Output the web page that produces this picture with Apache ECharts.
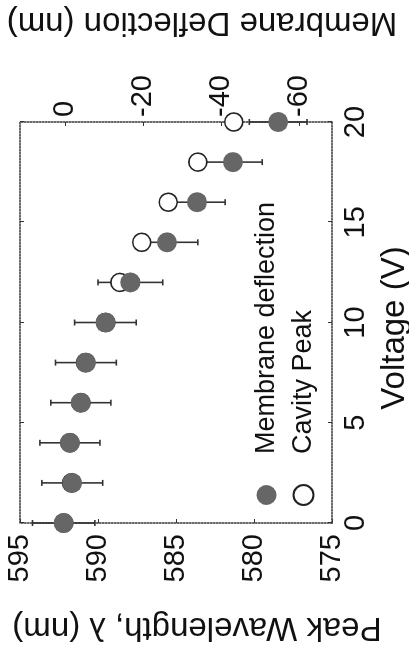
<!DOCTYPE html>
<html>
<head>
<meta charset="utf-8">
<script src="https://cdn.jsdelivr.net/npm/echarts@6/dist/echarts.min.js"></script>
<style>
  html, body { margin: 0; padding: 0; background: #fff; overflow: hidden; }
  #wrap { width: 409px; height: 651px; position: relative; overflow: hidden; }
  /* the figure is printed turned a quarter turn, so draw it upright and turn the box */
  #chart {
    position: absolute; left: 0; top: 0; width: 651px; height: 409px;
    transform-origin: 0 0; transform: rotate(-90deg) translateX(-651px);
  }
</style>
</head>
<body>
<div id="wrap"><div id="chart"></div></div>
<script>
const voltage = [0, 2, 4, 6, 8, 10, 12, 14, 16, 18, 20]
const deflection = [0.3, -1.9, -1.3, -4.1, -5.4, -10.4, -16.8, -26.2, -33.9, -43.1, -54.7]
const deflectionErr = [8, 7.8, 7.7, 7.7, 7.8, 7.9, 8.3, 7.9, 7.2, 7.5, 7.4]
const cavityPeak = [592.2, 591.7, 591.8, 591.1, 590.8, 589.5, 588.6, 587.2, 585.5, 583.6, 581.3]
const deflectionTicks = [0, -20, -40, -60]

const font = '"Liberation Sans", Arial, sans-serif'
const ink = '#111'
const boxLine = { color: '#333', width: 1.5, type: [1.5, 1.5] }

const chart = echarts.init(document.getElementById('chart'))

function renderErrorBar(params, api) {
  const x = api.value(0)
  const lo = api.coord([x, api.value(1)])
  const hi = api.coord([x, api.value(2)])
  const cap = 3
  const style = { stroke: '#333', lineWidth: 1.6 }
  return {
    type: 'group',
    children: [
      { type: 'line', shape: { x1: lo[0], y1: lo[1], x2: hi[0], y2: hi[1] }, style },
      { type: 'line', shape: { x1: lo[0] - cap, y1: lo[1], x2: lo[0] + cap, y2: lo[1] }, style },
      { type: 'line', shape: { x1: hi[0] - cap, y1: hi[1], x2: hi[0] + cap, y2: hi[1] }, style },
    ],
  }
}

chart.setOption({
  animation: false,
  backgroundColor: '#fff',
  grid: { left: 128, right: 122, top: 20, bottom: 77 },
  legend: {
    orient: 'vertical',
    left: 140,
    top: 248,
    itemWidth: 72,
    itemHeight: 20,
    itemGap: 10,
    selectedMode: false,
    textStyle: { fontSize: 27, fontFamily: font, color: ink },
    data: ['Membrane deflection', 'Cavity Peak'],
  },
  xAxis: [
    {
      type: 'value', position: 'bottom', min: 0, max: 20, interval: 5,
      axisLine: { onZero: false, lineStyle: boxLine },
      axisTick: { inside: true, length: 4, lineStyle: { color: '#333' } },
      axisLabel: { margin: 9, fontSize: 29, fontFamily: font, color: ink },
      splitLine: { show: false },
    },
    {
      type: 'value', position: 'top', min: 0, max: 20, interval: 5,
      axisLine: { onZero: false, lineStyle: boxLine },
      axisTick: { inside: true, length: 4, lineStyle: { color: '#333' } },
      axisLabel: { show: false },
      splitLine: { show: false },
    },
  ],
  yAxis: [
    {
      type: 'value', position: 'left', min: 575, max: 595, interval: 5,
      axisLine: { show: true, onZero: false, lineStyle: boxLine },
      axisTick: { show: true, inside: true, length: 4, lineStyle: { color: '#333' } },
      axisLabel: { margin: 11, fontSize: 29, fontFamily: font, color: ink },
      splitLine: { show: false },
    },
    {
      type: 'value', position: 'right', min: -68.5, max: 11.5,
      axisLine: { show: true, onZero: false, lineStyle: boxLine },
      axisTick: { show: true, inside: true, length: 4, customValues: deflectionTicks, lineStyle: { color: '#333' } },
      axisLabel: { margin: 5, fontSize: 29, fontFamily: font, color: ink, customValues: deflectionTicks },
      splitLine: { show: false },
    },
  ],
  graphic: [
    {
      type: 'text', x: 24, y: 197, rotation: Math.PI / 2,
      style: { text: 'Peak Wavelength, λ (nm)', font: '33px ' + font, fill: ink, align: 'center', verticalAlign: 'middle' },
    },
    {
      type: 'text', x: 629, y: 202, rotation: Math.PI / 2,
      style: { text: 'Membrane Deflection (nm)', font: '33px ' + font, fill: ink, align: 'center', verticalAlign: 'middle' },
    },
    {
      type: 'text', x: 323, y: 395,
      style: { text: 'Voltage (V)', font: '33px ' + font, fill: ink, align: 'center', verticalAlign: 'middle' },
    },
  ],
  series: [
    {
      name: 'deflection error',
      type: 'custom',
      xAxisIndex: 0,
      yAxisIndex: 1,
      z: 1,
      renderItem: renderErrorBar,
      encode: { x: 0, y: [1, 2] },
      data: voltage.map((v, i) => [v, deflection[i] - deflectionErr[i], deflection[i] + deflectionErr[i]]),
    },
    {
      name: 'Cavity Peak',
      type: 'scatter',
      xAxisIndex: 0,
      yAxisIndex: 0,
      z: 2,
      symbolSize: 18,
      itemStyle: { color: '#fff', borderColor: '#222', borderWidth: 1.6, opacity: 1 },
      data: voltage.map((v, i) => [v, cavityPeak[i]]),
    },
    {
      name: 'Membrane deflection',
      type: 'scatter',
      xAxisIndex: 0,
      yAxisIndex: 1,
      z: 3,
      symbolSize: 20,
      itemStyle: { color: '#666', opacity: 1 },
      data: voltage.map((v, i) => [v, deflection[i]]),
    },
  ],
})
</script>
</body>
</html>
